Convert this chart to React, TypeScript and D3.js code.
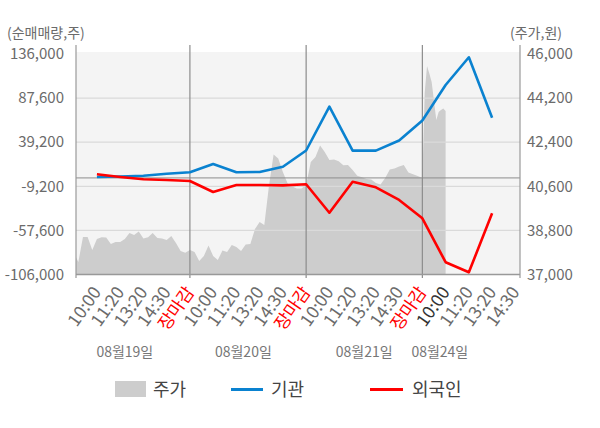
import * as d3 from "d3";
import { useRef, useEffect } from "react";

// x positions are "slots": each trading day spans 5 slots (10:00 .. 장마감)
const tickSlots = [1, 2, 3, 4, 5, 6, 7, 8, 9, 10, 11, 12, 13, 14, 15, 16, 17, 18, 19];
const tickLabels = [
  "10:00", "11:20", "13:20", "14:30", "장마감",
  "10:00", "11:20", "13:20", "14:30", "장마감",
  "10:00", "11:20", "13:20", "14:30", "장마감",
  "10:00", "11:20", "13:20", "14:30",
];
const dayLabels = ["08월19일", "08월20일", "08월21일", "08월24일"];
const dayLabelSlots = [2.2, 7.3, 12.5, 15.75];
const dayBoundarySlots = [5, 10, 15];

// net buying volume (주), one value per tick slot 1..18
const lineSlots = [1, 2, 3, 4, 5, 6, 7, 8, 9, 10, 11, 12, 13, 14, 15, 16, 17, 18];
const institution = [1000, 1500, 2400, 4600, 6200, 15300, 6200, 6500, 12300, 30100, 78200, 29900, 29900, 41000, 63000, 102000, 132400, 66100];
const foreigner = [4000, 1000, -1500, -2300, -3400, -15500, -7800, -7800, -8200, -7000, -38200, -4150, -10300, -24200, -44300, -92500, -103600, -38800];

// intraday price (원), sampled evenly through each day
const priceDay1 = [37890, 37510, 38530, 38530, 38000, 38450, 38520, 38510, 38250, 38330, 38330, 38450, 38690, 38610, 38760, 38470, 38520, 38690, 38490, 38470, 38410, 38570, 38290, 37960, 37890, 38000];
const priceDay2 = [38000, 37920, 37550, 37760, 38180, 37760, 37590, 37980, 37920, 38200, 38120, 37960, 38220, 38240, 38860, 39140, 39020, 40610, 41900, 41730, 41180, 40720, 40590, 40510, 40510, 40650];
const priceDay3 = [40650, 41590, 41800, 42270, 42000, 41670, 41690, 41620, 41460, 41470, 41270, 41030, 40970, 40900, 40880, 40730, 40670, 40940, 41290, 41330, 41410, 41470, 41160, 41090, 41020, 40940];
const priceDay4 = [40940, 44410, 45510, 45200, 44860, 44080, 43310, 43630, 43710, 43780, 43670];
const priceDays = [priceDay1, priceDay2, priceDay3, priceDay4];
const priceStep = [0.2, 0.2, 0.2, 0.1];

const leftTicks = [136000, 87600, 39200, -9200, -57600, -106000];
const rightTicks = [46000, 44200, 42400, 40600, 38800, 37000];

const FONT = "'Noto Sans CJK KR', 'Noto Sans', sans-serif";

function Chart({ width = 600, height = 428 }: { width?: number; height?: number }) {
  const svgRef = useRef<SVGSVGElement | null>(null);

  useEffect(() => {
    const svg = d3.select(svgRef.current);
    svg.selectAll("*").remove();

    const left = 76, right = 520, top = 54, bottom = 274.5;

    const x = d3.scaleLinear().domain([0.1, 19.2]).range([left, right]);
    const yL = d3.scaleLinear().domain([-106000, 136000]).range([bottom, top]);
    const yR = d3.scaleLinear().domain([37000, 46000]).range([bottom, top]);

    svg.append("defs").append("clipPath").attr("id", "plotclip")
      .append("rect").attr("x", left).attr("y", 52).attr("width", right - left).attr("height", bottom - 52);

    // plot background
    svg.append("rect")
      .attr("x", left).attr("y", 52)
      .attr("width", right - left).attr("height", bottom - 52)
      .attr("fill", "#f4f4f4");

    // price area
    const pricePts: [number, number][] = [];
    priceDays.forEach((arr, d) => {
      arr.forEach((p, i) => pricePts.push([d * 5 + i * priceStep[d], p]));
    });
    const area = d3.area<[number, number]>()
      .x((d) => x(d[0]))
      .y0(bottom)
      .y1((d) => yR(d[1]));
    svg.append("path")
      .datum(pricePts)
      .attr("clip-path", "url(#plotclip)")
      .attr("fill", "#cdcdcd")
      .attr("d", area);

    // horizontal gridlines
    svg.append("g")
      .selectAll("line")
      .data(leftTicks.slice(1, -1))
      .join("line")
      .attr("x1", left).attr("x2", right)
      .attr("y1", (d) => yL(d)).attr("y2", (d) => yL(d))
      .attr("stroke", "#dadada")
      .attr("stroke-width", 1.2);

    // zero line
    svg.append("line")
      .attr("x1", left).attr("x2", right)
      .attr("y1", yL(0)).attr("y2", yL(0))
      .attr("stroke", "#8c8c8c").attr("stroke-width", 1);

    // day separators and axis frame
    svg.append("g")
      .selectAll("line")
      .data(dayBoundarySlots)
      .join("line")
      .attr("x1", (d) => x(d)).attr("x2", (d) => x(d))
      .attr("y1", 45).attr("y2", 278)
      .attr("stroke", "#8c8c8c").attr("stroke-width", 1.2);
    [left, right].forEach((xx) => {
      svg.append("line")
        .attr("x1", xx).attr("x2", xx).attr("y1", 45).attr("y2", 278)
        .attr("stroke", "#999").attr("stroke-width", 1.2);
    });
    svg.append("line")
      .attr("x1", left).attr("x2", right).attr("y1", bottom).attr("y2", bottom)
      .attr("stroke", "#999").attr("stroke-width", 1.5);

    // lines
    const line = d3.line<number>()
      .x((_, i) => x(lineSlots[i]))
      .y((d) => yL(d));
    svg.append("path").datum(institution)
      .attr("fill", "none").attr("stroke", "#0a82d0").attr("stroke-width", 2.6)
      .attr("stroke-linejoin", "round").attr("d", line);
    svg.append("path").datum(foreigner)
      .attr("fill", "none").attr("stroke", "#ff0000").attr("stroke-width", 2.6)
      .attr("stroke-linejoin", "round").attr("d", line);

    // left axis labels
    svg.append("g")
      .selectAll("text")
      .data(leftTicks)
      .join("text")
      .attr("x", 64).attr("y", (d) => yL(d))
      .attr("dy", "0.35em")
      .attr("text-anchor", "end")
      .attr("font-family", FONT).attr("font-size", 15).attr("fill", "#6b6b6b")
      .text((d) => d3.format(",")(d).replace("−", "-"));

    // right axis labels
    svg.append("g")
      .selectAll("text")
      .data(rightTicks)
      .join("text")
      .attr("x", 527).attr("y", (d) => yR(d))
      .attr("dy", "0.35em")
      .attr("text-anchor", "start")
      .attr("font-family", FONT).attr("font-size", 15).attr("fill", "#6b6b6b")
      .text((d) => d3.format(",")(d));

    svg.append("text").attr("x", 7).attr("y", 33).attr("dy", "0.35em")
      .attr("font-family", FONT).attr("font-size", 14).attr("fill", "#6b6b6b")
      .text("(순매매량,주)");
    svg.append("text").attr("x", 562).attr("y", 33).attr("dy", "0.35em")
      .attr("text-anchor", "end")
      .attr("font-family", FONT).attr("font-size", 14).attr("fill", "#6b6b6b")
      .text("(주가,원)");

    // x tick labels (rotated)
    svg.append("g")
      .selectAll("text")
      .data(tickSlots)
      .join("text")
      .attr("transform", (d) => `translate(${x(d) + 5},${292}) rotate(-55)`)
      .attr("text-anchor", "end")
      .attr("font-family", FONT).attr("font-size", 17.5)
      .attr("fill", (_, i) => (tickLabels[i] === "장마감" ? "#ff0000" : i === 15 ? "#333" : "#6b6b6b"))
      .text((_, i) => tickLabels[i]);

    // day labels
    svg.append("g")
      .selectAll("text")
      .data(dayLabels)
      .join("text")
      .attr("x", (_, i) => x(dayLabelSlots[i])).attr("y", 352)
      .attr("dy", "0.35em")
      .attr("text-anchor", "middle")
      .attr("font-family", FONT).attr("font-size", 14).attr("fill", "#777")
      .text((d) => d);

    // legend
    const lg = svg.append("g").attr("font-family", FONT).attr("font-size", 18).attr("fill", "#444");
    lg.append("rect").attr("x", 115).attr("y", 381).attr("width", 31).attr("height", 16).attr("fill", "#cdcdcd");
    lg.append("text").attr("x", 153).attr("y", 390).attr("dy", "0.35em").text("주가");
    lg.append("line").attr("x1", 231).attr("x2", 263).attr("y1", 389.5).attr("y2", 389.5)
      .attr("stroke", "#0a82d0").attr("stroke-width", 3);
    lg.append("text").attr("x", 271).attr("y", 390).attr("dy", "0.35em").text("기관");
    lg.append("line").attr("x1", 370).attr("x2", 403).attr("y1", 389.5).attr("y2", 389.5)
      .attr("stroke", "#ff0000").attr("stroke-width", 3);
    lg.append("text").attr("x", 412).attr("y", 390).attr("dy", "0.35em").text("외국인");
  }, [width, height]);

  return (
    <svg
      ref={svgRef}
      width={width}
      height={height}
      viewBox={`0 0 ${width} ${height}`}
      style={{ position: "absolute", left: 0, top: 0, background: "#fff" }}
    />
  );
}

export default function App() {
  return <Chart />;
}
